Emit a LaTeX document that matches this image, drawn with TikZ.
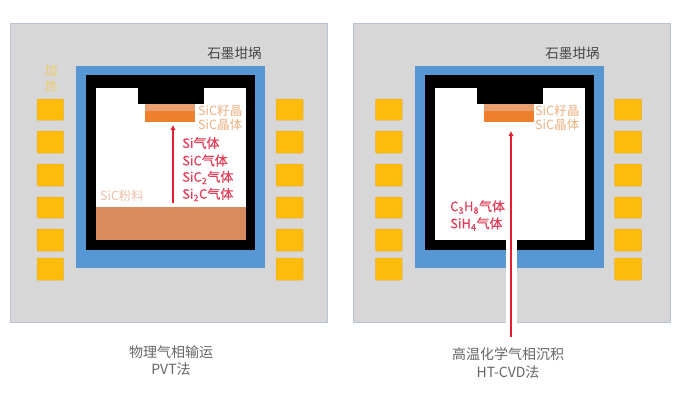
\documentclass[tikz,border=0pt]{standalone}
\usepackage{fontspec}
\usetikzlibrary{arrows.meta}
\setmainfont{Noto Sans CJK SC}
\newfontfamily\gasfont[FakeBold=0.35]{Noto Sans CJK SC}
\definecolor{panelc}{HTML}{D8D7D8}
\definecolor{panelb}{HTML}{B9C4D2}
\definecolor{bluec}{HTML}{5797D3}
\definecolor{heatc}{HTML}{FDBB0B}
\definecolor{heatb}{HTML}{E8B030}
\definecolor{powderc}{HTML}{D98B5E}
\definecolor{seedc}{HTML}{E8A070}
\definecolor{crystalc}{HTML}{EE7F2D}
\definecolor{lorange}{HTML}{EDB283}
\definecolor{lsalmon}{HTML}{EDC0A8}
\definecolor{redc}{HTML}{E0405A}
\definecolor{arrowc}{HTML}{E0202C}
\definecolor{capc}{HTML}{666666}
\definecolor{darkc}{HTML}{444444}
\definecolor{lyellow}{HTML}{F0CB6A}
\tikzset{
 x=1pt,y=-1pt,
 heater/.style={fill=heatc,draw=heatb,line width=.5pt,rounded corners=.8pt},
 caplab/.style={font=\fontsize{14}{15}\selectfont,text=capc,inner sep=0pt},
 titlelab/.style={font=\fontsize{13.6}{14}\selectfont,text=darkc,inner sep=0pt},
 orangelab/.style={font=\fontsize{12.6}{13}\selectfont,text=lorange,inner sep=0pt,anchor=west},
 heatlab/.style={font=\fontsize{13}{14}\selectfont,text=lyellow,inner sep=0pt},
 gaslab/.style={font=\fontsize{13}{14}\selectfont\gasfont,text=redc,inner sep=0pt,anchor=west},
 gasarrow/.style={draw=arrowc,line width=2pt,-{Latex[length=5pt,width=5.5pt]}},
}
\newcommand{\furnace}[2]{%
 \fill[panelc] (#2+10,23) rectangle (#2+327,322);
 \draw[panelb,line width=.6pt] (#2+10,23) rectangle (#2+327,322);
 \fill[bluec] (#1+76,66) rectangle (#1+265,268);
 \fill[black] (#1+86,75) rectangle (#1+255,250);
 \fill[white] (#1+96,88) rectangle (#1+246,240);
 \fill[black] (#1+138,88) rectangle (#1+204,103.5);
 \fill[seedc] (#1+145,103.5) rectangle (#1+195,111);
 \fill[crystalc] (#1+145,111) rectangle (#1+195,121.5);
 \foreach \a/\b in {99/120,131/153,164/186,197/218,229/251,258/280}{
  \path[heater] (#1+37,\a) rectangle (#1+63.5,\b);
  \path[heater] (#1+276,\a) rectangle (#1+303,\b);
 }
 }
\begin{document}
\begin{tikzpicture}
\useasboundingbox (0,0) rectangle (680,400);
\fill[white] (0,0) rectangle (680,400);
\furnace{0}{0}
\furnace{338.5}{343}
\fill[powderc] (96,207) rectangle (246,240);
\fill[white] (505.5,240) rectangle (516.5,322.5);
\node[titlelab] (t1) at (234.5,53.5) {石墨坩埚};
\node[heatlab] (h1) at (51,71) {加};
\node[heatlab] (h2) at (51,87) {热};
\node[orangelab] (s1) at (198,111) {SiC籽晶};
\node[orangelab] (s2) at (198,124.5) {SiC晶体};
\node[gaslab] (g1) at (182,143) {Si气体};
\node[gaslab] (g2) at (182,160.5) {SiC气体};
\node[gaslab] (g3) at (182,177.5) {SiC\textsubscript{2}气体};
\node[gaslab] (g4) at (182,194.5) {Si\textsubscript{2}C气体};
\node[font=\fontsize{12.4}{13}\selectfont,text=lsalmon,inner sep=0pt,anchor=west] (p1) at (100,196) {SiC粉料};
\coordinate (a1s) at (173,203);
\coordinate (a1e) at (173,125);
\draw[gasarrow] (a1s) -- (a1e);
\node[caplab] (c1) at (171,352) {物理气相输运};
\node[caplab] (c2) at (171,369) {PVT法};
\node[titlelab] (t2) at (572.5,53.5) {石墨坩埚};
\node[orangelab] (s3) at (535,111) {SiC籽晶};
\node[orangelab] (s4) at (535,125) {SiC晶体};
\node[gaslab] (g5) at (450,207) {C\textsubscript{3}H\textsubscript{8}气体};
\node[gaslab] (g6) at (450,224) {SiH\textsubscript{4}气体};
\coordinate (a2s) at (511,337);
\coordinate (a2e) at (511,131);
\draw[gasarrow] (a2s) -- (a2e);
\node[caplab] (c3) at (508,354) {高温化学气相沉积};
\node[caplab] (c4) at (508,372) {HT-CVD法};
\end{tikzpicture}
\end{document}
